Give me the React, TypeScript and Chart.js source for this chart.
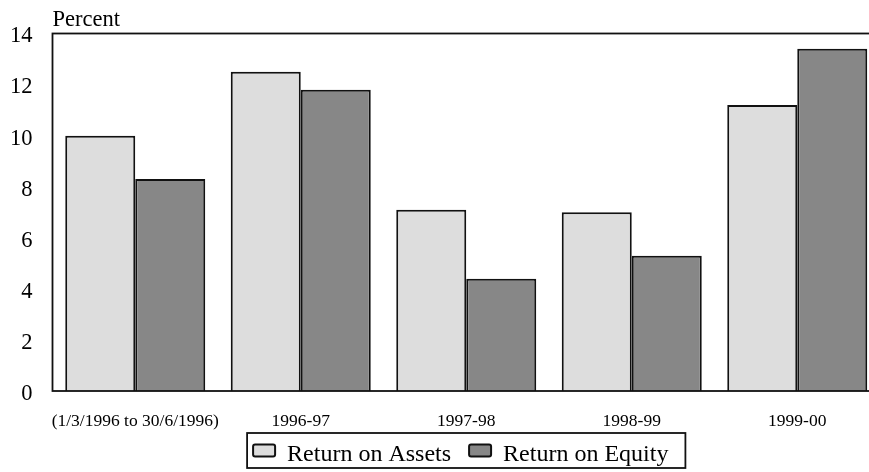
import React, { useEffect, useRef } from "react";
import { Chart, registerables } from "chart.js";

Chart.register(...registerables);

const categories = ["(1/3/1996 to 30/6/1996)", "1996-97", "1997-98", "1998-99", "1999-00"];
const returnOnAssets = [10.0, 12.5, 7.1, 7.0, 11.2];
const returnOnEquity = [8.3, 11.8, 4.4, 5.3, 13.4];
const yTicks = [0, 2, 4, 6, 8, 10, 12, 14];
const seriesNames = ["Return on Assets", "Return on Equity"];
const unitLabel = "Percent";

const FONT = "'Liberation Serif', 'Times New Roman', serif";
const ROA_COLOR = "#dddddd";
const ROE_COLOR = "#878787";
const EDGE = "#111";

const framePlugin = {
  id: "frame",
  afterDraw(chart: any) {
    const { ctx, chartArea } = chart;
    ctx.save();
    // plot frame
    ctx.strokeStyle = EDGE;
    ctx.lineWidth = 1.8;
    ctx.strokeRect(chartArea.left, chartArea.top, chartArea.right - chartArea.left, chartArea.bottom - chartArea.top);
    // unit label
    ctx.fillStyle = "#000";
    ctx.font = `22.5px ${FONT}`;
    ctx.textAlign = "left";
    ctx.textBaseline = "alphabetic";
    ctx.fillText(unitLabel, chartArea.left, chartArea.top - 8);

    // legend (boxed, centred under the plot area)
    const fontSize = 24;
    ctx.font = `${fontSize}px ${FONT}`;
    const boxW = 22;
    const boxH = 12;
    const gap = 12;
    const itemPad = 18;
    const ds = chart.data.datasets;
    const widths = ds.map((d: any) => ctx.measureText(d.label).width);
    let content = 0;
    widths.forEach((w: number, i: number) => {
      content += boxW + gap + w + (i < widths.length - 1 ? itemPad : 0);
    });
    const padL = 6;
    const padR = 17;
    const frameW = padL + content + padR;
    const cx = (chartArea.left + chartArea.right) / 2;
    const frameL = cx - frameW / 2;
    const frameT = 433;
    const frameB = 468;
    ctx.lineWidth = 1.8;
    ctx.strokeStyle = EDGE;
    ctx.strokeRect(frameL, frameT, frameW, frameB - frameT);
    const midY = 450.5;
    let x = frameL + padL;
    ds.forEach((d: any, i: number) => {
      ctx.fillStyle = d.backgroundColor;
      ctx.beginPath();
      if ((ctx as any).roundRect) {
        (ctx as any).roundRect(x, midY - boxH / 2, boxW, boxH, 2);
      } else {
        ctx.rect(x, midY - boxH / 2, boxW, boxH);
      }
      ctx.fill();
      ctx.lineWidth = 2;
      ctx.strokeStyle = EDGE;
      ctx.stroke();
      ctx.fillStyle = "#000";
      ctx.textBaseline = "alphabetic";
      ctx.fillText(d.label, x + boxW + gap, midY + 10.5);
      x += boxW + gap + widths[i] + itemPad;
    });
    ctx.restore();
  },
};

export default function App() {
  const ref = useRef<HTMLCanvasElement>(null);
  useEffect(() => {
    if (!ref.current) return;
    const chart = new Chart(ref.current, {
      type: "bar",
      data: {
        labels: categories,
        datasets: [
          {
            label: seriesNames[0],
            data: returnOnAssets,
            backgroundColor: ROA_COLOR,
            borderColor: EDGE,
            borderWidth: 2,
            categoryPercentage: 0.846,
            barPercentage: 1.0,
          },
          {
            label: seriesNames[1],
            data: returnOnEquity,
            backgroundColor: ROE_COLOR,
            borderColor: EDGE,
            borderWidth: 2,
            categoryPercentage: 0.846,
            barPercentage: 1.0,
          },
        ],
      },
      options: {
        responsive: false,
        animation: false,
        devicePixelRatio: 1,
        layout: { padding: { top: 33, left: 0, right: 0, bottom: 0 } },
        plugins: {
          tooltip: { enabled: false },
          title: { display: false },
          legend: { display: false },
        },
        scales: {
          x: {
            grid: { display: false, drawTicks: false },
            border: { display: false },
            ticks: {
              color: "#000",
              font: { family: FONT, size: 17.5 },
              padding: 20,
              maxRotation: 0,
              autoSkip: false,
            },
            afterFit: (scale: any) => {
              scale.height = 81;
            },
          },
          y: {
            min: 0,
            max: 14,
            grid: { display: false, drawTicks: false },
            border: { display: false },
            afterBuildTicks: (scale: any) => {
              scale.ticks = yTicks.map((v) => ({ value: v }));
            },
            ticks: {
              color: "#000",
              font: { family: FONT, size: 22.5 },
              padding: 20,
              labelOffset: 3,
            },
            afterFit: (scale: any) => {
              scale.width = 52.5;
            },
          },
        },
      },
      plugins: [framePlugin],
    });
    return () => chart.destroy();
  }, []);
  return (
    <div style={{ position: "fixed", left: 0, top: 0, width: 869, height: 472, overflow: "hidden", background: "#fff" }}>
      <canvas ref={ref} width={880} height={472} style={{ display: "block", width: 880, height: 472 }} />
    </div>
  );
}
